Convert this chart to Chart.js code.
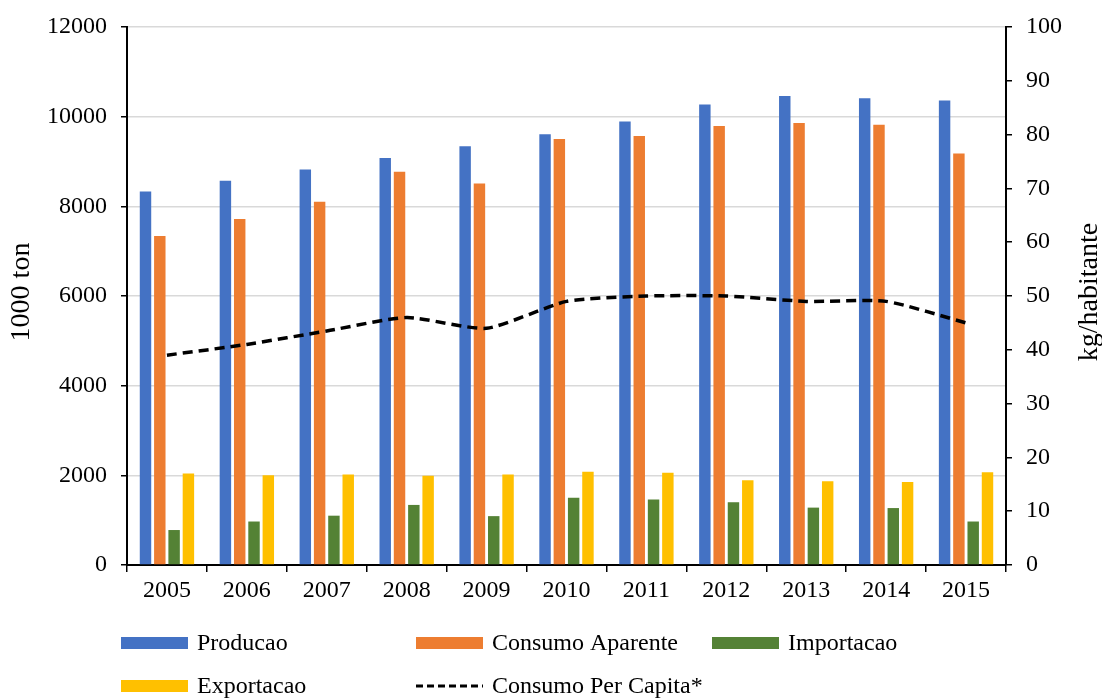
<!DOCTYPE html>
<html>
<head>
<meta charset="utf-8">
<script src="https://cdn.jsdelivr.net/npm/chart.js@4.4.1/dist/chart.umd.min.js"></script>
<style>
  html, body { margin: 0; padding: 0; background: #ffffff; }
  canvas { display: block; }
</style>
</head>
<body>
<canvas id="chart" width="1102" height="698"></canvas>
<script>
// Categories
const years = ['2005', '2006', '2007', '2008', '2009', '2010', '2011', '2012', '2013', '2014', '2015'];

// Series values (1000 ton)
const producao = [8330, 8570, 8820, 9080, 9340, 9610, 9890, 10270, 10460, 10410, 10360];
const consumoAparente = [7340, 7720, 8100, 8770, 8510, 9500, 9570, 9790, 9860, 9820, 9180];
const importacao = [780, 970, 1100, 1340, 1090, 1500, 1460, 1400, 1280, 1270, 970];
const exportacao = [2040, 2000, 2020, 1990, 2020, 2080, 2060, 1890, 1870, 1850, 2070];

// Per capita consumption (kg/habitante)
const consumoPerCapita = [39, 41, 43.5, 46, 44, 49, 50, 50, 49, 49, 45];

// Axis ranges
const leftAxis = { min: 0, max: 12000, step: 2000 };
const rightAxis = { min: 0, max: 100, step: 10 };

const FONT = "'Liberation Serif', 'Times New Roman', serif";
const TICK_SIZE = 24;
const TITLE_SIZE = 28;
const DASH = [10, 6];

// Legend laid out as a fixed grid below the plot
const legendGrid = {
  id: 'legendGrid',
  afterDraw(chart) {
    const ctx = chart.ctx;
    const cols = [121, 416, 712];
    const rows = [643, 686];
    const boxW = 67, boxH = 12, gap = 9;
    ctx.save();
    ctx.font = `${TICK_SIZE}px ${FONT}`;
    ctx.textBaseline = 'middle';
    ctx.textAlign = 'left';
    chart.data.datasets.forEach((ds, i) => {
      const x = cols[i % 3];
      const y = rows[Math.floor(i / 3)];
      if (ds.type === 'line') {
        ctx.strokeStyle = ds.borderColor;
        ctx.lineWidth = 3;
        ctx.setLineDash([7, 4]);
        ctx.beginPath();
        ctx.moveTo(x, y);
        ctx.lineTo(x + boxW, y);
        ctx.stroke();
        ctx.setLineDash([]);
      } else {
        ctx.fillStyle = ds.backgroundColor;
        ctx.fillRect(x, y - boxH / 2, boxW, boxH);
      }
      ctx.fillStyle = '#000';
      ctx.fillText(ds.label, x + boxW + gap, y + 1);
    });
    ctx.restore();
  }
};

// Vertical axis titles, both reading bottom to top
const axisTitles = {
  id: 'axisTitles',
  afterDraw(chart) {
    const ctx = chart.ctx;
    const a = chart.chartArea;
    const cy = (a.top + a.bottom) / 2 - 4;
    ctx.save();
    ctx.font = `${TITLE_SIZE}px ${FONT}`;
    ctx.fillStyle = '#000';
    ctx.textAlign = 'center';
    ctx.textBaseline = 'middle';
    [[22, '1000 ton'], [1090, 'kg/habitante']].forEach(([x, text]) => {
      ctx.save();
      ctx.translate(x, cy);
      ctx.rotate(-Math.PI / 2);
      ctx.fillText(text, 0, 0);
      ctx.restore();
    });
    ctx.restore();
  }
};

const barCommon = { type: 'bar', yAxisID: 'y', order: 1, categoryPercentage: 0.716, barPercentage: 0.8, borderWidth: 0 };
const plainNumber = (v) => String(v);

// Fixed axis widths; tick label overflow is absorbed by the layout padding
const fitVertical = (width) => (scale) => {
  scale.width = width;
  scale.paddingTop = 0;
  scale.paddingBottom = 0;
};

new Chart(document.getElementById('chart'), {
  data: {
    labels: years,
    datasets: [
      { ...barCommon, label: 'Producao', data: producao, backgroundColor: '#4472C4' },
      { ...barCommon, label: 'Consumo Aparente', data: consumoAparente, backgroundColor: '#ED7D31' },
      { ...barCommon, label: 'Importacao', data: importacao, backgroundColor: '#548235' },
      { ...barCommon, label: 'Exportacao', data: exportacao, backgroundColor: '#FFC000' },
      {
        type: 'line', label: 'Consumo Per Capita*', data: consumoPerCapita, yAxisID: 'y1', order: 0,
        borderColor: '#000000', borderWidth: 3.5, borderDash: DASH, borderCapStyle: 'butt',
        pointRadius: 0, tension: 0.2, fill: false
      }
    ]
  },
  options: {
    responsive: false,
    devicePixelRatio: 1,
    animation: false,
    layout: { padding: { top: 27, left: 0, right: 0, bottom: 0 } },
    plugins: { legend: { display: false }, tooltip: { enabled: false }, title: { display: false } },
    scales: {
      x: {
        type: 'category',
        offset: true,
        grid: { offset: true, drawOnChartArea: false, color: '#000', tickColor: '#000', tickLength: 7, lineWidth: 1.5 },
        border: { color: '#000', width: 2 },
        ticks: { color: '#000', font: { family: FONT, size: TICK_SIZE }, padding: 4, maxRotation: 0 },
        afterFit(scale) { scale.height = 133; }
      },
      y: {
        position: 'left',
        min: leftAxis.min, max: leftAxis.max,
        grid: {
          color: (c) => (c.tick && c.tick.value === 0) ? 'rgba(0,0,0,0)' : '#d9d9d9',
          lineWidth: 1.5, tickColor: '#000', tickLength: 6
        },
        border: { color: '#000', width: 2 },
        ticks: { stepSize: leftAxis.step, color: '#000', font: { family: FONT, size: TICK_SIZE }, padding: 14, callback: plainNumber },
        afterFit: fitVertical(127)
      },
      y1: {
        position: 'right',
        min: rightAxis.min, max: rightAxis.max,
        grid: { drawOnChartArea: false, color: '#000', tickColor: '#000', tickLength: 6, lineWidth: 1.5 },
        border: { color: '#000', width: 2 },
        ticks: { stepSize: rightAxis.step, color: '#000', font: { family: FONT, size: TICK_SIZE }, padding: 14, callback: plainNumber },
        afterFit: fitVertical(96)
      }
    }
  },
  plugins: [legendGrid, axisTitles]
});
</script>
</body>
</html>
